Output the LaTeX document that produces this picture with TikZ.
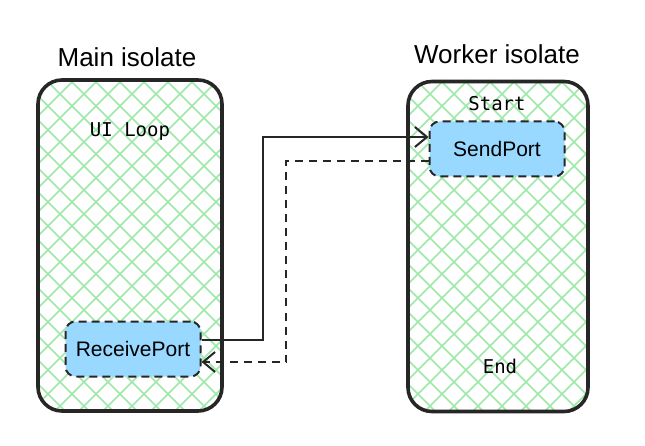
\documentclass[tikz,border=0pt]{standalone}
\usepackage{fontspec}
\setmainfont{Liberation Sans}
\newfontfamily\mono{DejaVu Sans Mono}
\usetikzlibrary{arrows.meta}
\definecolor{hatch}{HTML}{9EE8A8}
\definecolor{portfill}{HTML}{99D8FF}
\begin{document}
\begin{tikzpicture}[x=1pt,y=-1pt,
  box/.style={draw=black!85,line width=3.6pt,rounded corners=24pt},
  port/.style={draw=black!85,fill=portfill,dash pattern=on 8pt off 5pt,line width=2pt,rounded corners=10pt,minimum width=135pt,minimum height=55pt,font=\fontsize{21}{24}\selectfont},
  title/.style={font=\fontsize{26}{30}\selectfont},
  lbl/.style={font=\mono\fontsize{19}{22}\selectfont},
  arr/.style={draw=black!85,line width=2pt,-{Straight Barb[length=12pt,width=20pt]}},
  dsh/.style={dash pattern=on 8pt off 6pt}]
\useasboundingbox (0,0) rectangle (645,446);
\foreach \xa/\xb in {38/222,408/588}{
  \begin{scope}
    \clip[rounded corners=24pt] (\xa,80) rectangle (\xb,411);
    \foreach \k in {-400,-376,...,600}{
      \draw[hatch,line width=1.7pt] (\xa+\k,80) -- (\xa+\k+340,420);
      \draw[hatch,line width=1.7pt] (\xa+\k,420) -- (\xa+\k+340,80);
    }
  \end{scope}
}
\node[box,minimum width=184pt,minimum height=331pt] (main) at (130,245.5) {};
\node[box,minimum width=180pt,minimum height=330pt] (work) at (498,246.5) {};
\node[title] (t1) at (127,57) {Main isolate};
\node[title] (t2) at (497,54) {Worker isolate};
\node[lbl] (ui) at (130,132) {UI Loop};
\node[lbl] (st) at (497,104) {Start};
\node[lbl] (en) at (500,366) {End};
\node[port] (sp) at (497,149) {SendPort};
\node[port] (rp) at (133,349) {ReceivePort};
\coordinate (a1) at (263,340);
\coordinate (a2) at (263,137);
\draw[arr] (rp.east |- a1) -- (a1) -- (a2) -- (sp.west |- a2);
\coordinate (b1) at (286,161);
\coordinate (b2) at (286,362);
\draw[arr,dsh] (sp.west |- b1) -- (b1) -- (b2) -- (rp.east |- b2);
\end{tikzpicture}
\end{document}
